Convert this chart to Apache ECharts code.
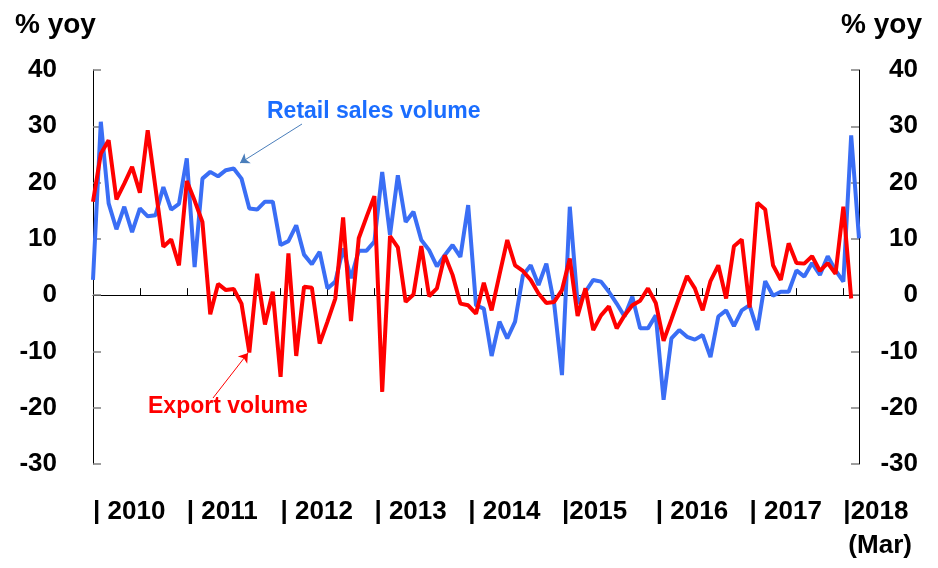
<!DOCTYPE html>
<html>
<head>
<meta charset="utf-8">
<script src="https://cdn.jsdelivr.net/npm/echarts@6/dist/echarts.min.js"></script>
<style>
  html, body { margin: 0; padding: 0; background: #fff; }
  #chart { width: 938px; height: 568px; }
</style>
</head>
<body>
<div id="chart"></div>
<script>
  // monthly data, Jan 2010 .. Mar 2018 (% yoy)
  var years = ['2010', '2011', '2012', '2013', '2014', '2015', '2016', '2017', '2018'];
  var yearLabels = ['| 2010', '| 2011', '| 2012', '| 2013', '| 2014', '|2015', '| 2016', '| 2017', '|2018'];
  var lastMonths = 3; // 2018 stops at March

  var months = [];
  years.forEach(function (y, k) {
    var n = k === years.length - 1 ? lastMonths : 12;
    for (var m = 1; m <= n; m++) {
      months.push(y + '-' + (m < 10 ? '0' + m : m));
    }
  });

  var retailSales = [
    2.7, 30.8, 16.3, 11.7, 15.7, 11.2, 15.4, 14.0, 14.2, 19.2, 15.2, 16.2,
    24.3, 5.0, 20.7, 21.9, 21.1, 22.2, 22.5, 20.7, 15.4, 15.2, 16.6, 16.6,
    8.9, 9.6, 12.4, 7.2, 5.5, 7.7, 1.2, 2.4, 8.3, 3.0, 7.9, 7.9,
    9.5, 21.9, 10.7, 21.3, 13.0, 14.8, 9.8, 8.0, 5.1, 7.1, 8.9, 6.8,
    16.0, -1.8, -2.4, -10.8, -4.7, -7.7, -4.7, 3.5, 5.3, 1.8, 5.6, -1.5,
    -14.2, 15.7, -1.5, 0.6, 2.7, 2.4, 0.6, -1.5, -3.8, -0.3, -5.9, -5.9,
    -3.6, -18.6, -7.7, -6.2, -7.4, -7.9, -7.1, -11.0, -3.8, -2.7, -5.5, -2.7,
    -1.8, -6.2, 2.5, -0.1, 0.6, 0.6, 4.4, 3.3, 5.7, 3.6, 6.9, 4.4,
    2.4, 28.4, 10.1
  ];

  var exportVolume = [
    16.6, 25.1, 27.5, 17.0, 19.8, 22.8, 18.2, 29.3, 19.0, 8.6, 9.9, 5.3,
    20.3, 16.8, 13.0, -3.4, 2.0, 0.9, 1.1, -1.5, -10.2, 3.8, -5.2, 0.6,
    -14.5, 7.4, -10.8, 1.5, 1.3, -8.6, -4.7, -0.6, 13.8, -4.6, 10.1, 13.9,
    17.6, -17.2, 10.5, 8.5, -1.2, 0.1, 8.7, -0.2, 1.2, 7.1, 3.6, -1.5,
    -1.8, -3.3, 2.2, -2.7, 3.6, 9.8, 5.3, 4.3, 2.7, 0.3, -1.4, -1.2,
    0.9, 6.5, -3.7, 1.2, -6.2, -3.6, -2.0, -5.9, -3.6, -1.8, -1.0, 1.2,
    -1.4, -8.1, -4.3, -0.4, 3.4, 1.2, -2.7, 2.5, 5.3, -0.6, 8.7, 9.9,
    -2.2, 16.4, 15.2, 5.3, 2.7, 9.2, 5.7, 5.6, 6.9, 4.3, 5.7, 3.8,
    15.7, -0.6, null
  ];

  var yMin = -30, yMax = 40, yStep = 10;

  var font = 'Liberation Sans, Arial, sans-serif';

  var chart = echarts.init(document.getElementById('chart'));

  var yAxisBase = function (side) {
    return {
      type: 'value',
      position: side,
      min: yMin,
      max: yMax,
      interval: yStep,
      axisLine: { show: true, lineStyle: { color: '#000', width: 1 } },
      axisTick: { show: true, inside: true, length: 8, lineStyle: { color: '#7f7f7f', width: 1.5 } },
      splitLine: { show: false },
      axisLabel: {
        color: '#000',
        fontFamily: font,
        fontWeight: 'bold',
        fontSize: 26,
        margin: side === 'left' ? 36 : 59,
        align: 'right'
      }
    };
  };

  chart.setOption({
    animation: false,
    backgroundColor: '#fff',
    grid: { left: 93, right: 79, top: 70, bottom: 104 },
    xAxis: [
      {
        type: 'category',
        data: months,
        boundaryGap: false,
        axisLine: { onZero: true, lineStyle: { color: '#000', width: 1 } },
        axisTick: {
          show: true,
          inside: true,
          length: 7,
          interval: function (i) { return i > 0 && i % 6 === 0; },
          lineStyle: { color: '#000' }
        },
        axisLabel: { show: false },
        splitLine: { show: false }
      },
      {
        type: 'category',
        data: months,
        boundaryGap: false,
        position: 'bottom',
        axisLine: { show: false, onZero: false },
        axisTick: { show: false },
        splitLine: { show: false },
        axisLabel: {
          interval: function (i) { return i % 12 === 0; },
          formatter: function (v, i) {
            var k = Math.floor(i / 12);
            if (k === years.length - 1) return yearLabels[k] + '\n{m|(Mar)}';
            return yearLabels[k];
          },
          align: 'left',
          margin: 31,
          color: '#000',
          fontFamily: font,
          fontWeight: 'bold',
          fontSize: 26,
          lineHeight: 34,
          rich: {
            m: { fontFamily: font, fontWeight: 'bold', fontSize: 26, color: '#000', padding: [0, 0, 0, 5] }
          }
        }
      }
    ],
    yAxis: [yAxisBase('left'), yAxisBase('right')],
    graphic: [
      { type: 'text', left: 15, top: 11, style: { text: '% yoy', fill: '#000', font: 'bold 28px ' + font } },
      { type: 'text', right: 16, top: 11, style: { text: '% yoy', fill: '#000', font: 'bold 28px ' + font } },
      { type: 'text', left: 267, top: 100, style: { text: 'Retail sales volume', fill: '#1a6dff', font: 'bold 23px ' + font } },
      { type: 'text', left: 148, top: 395, style: { text: 'Export volume', fill: '#ff0000', font: 'bold 23px ' + font } }
    ],
    series: [
      {
        name: 'Retail sales volume',
        type: 'line',
        data: retailSales,
        symbol: 'none',
        lineStyle: { color: '#3a6ef5', width: 4 },
        markLine: {
          silent: true,
          symbol: ['none', 'arrow'],
          symbolSize: 9,
          label: { show: false },
          lineStyle: { color: '#4a7ebb', width: 1, type: 'solid' },
          data: [[{ x: 302, y: 124 }, { x: 240, y: 163 }]]
        }
      },
      {
        name: 'Export volume',
        type: 'line',
        data: exportVolume,
        symbol: 'none',
        lineStyle: { color: '#ff0000', width: 4 },
        markLine: {
          silent: true,
          symbol: ['none', 'arrow'],
          symbolSize: 9,
          label: { show: false },
          lineStyle: { color: '#ff0000', width: 1, type: 'solid' },
          data: [[{ x: 213, y: 398 }, { x: 248, y: 353 }]]
        }
      }
    ]
  });
</script>
</body>
</html>
